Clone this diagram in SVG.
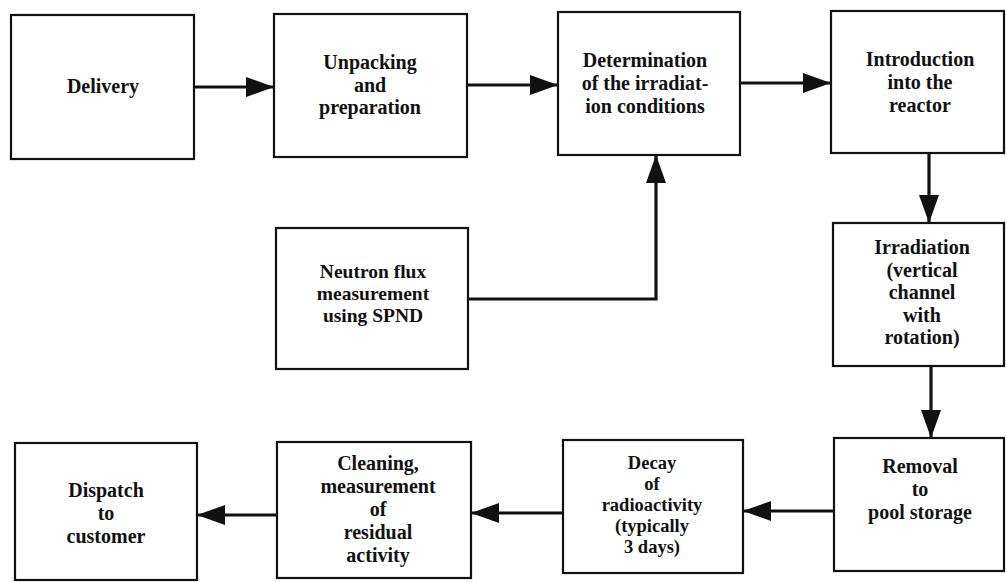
<svg xmlns="http://www.w3.org/2000/svg" width="1006" height="582" viewBox="0 0 1006 582">
<style>
.box{fill:#fff;stroke:#111;stroke-width:2.2}
.t{font-family:"Liberation Serif",serif;font-weight:bold;font-size:20px;fill:#111;text-anchor:middle}
.s{font-size:19.5px}
.xs{font-size:18.5px}
.c{fill:none;stroke:#111;stroke-width:3.2}
</style>
<defs>
<marker id="ah" markerUnits="userSpaceOnUse" markerWidth="28" markerHeight="20" refX="27" refY="10" orient="auto">
<path d="M0,0 L28,10 L0,20 z" fill="#111"/>
</marker>
</defs>
<rect width="1006" height="582" fill="#fff"/>
<g id="connectors">
<path class="c" d="M194,87 H273" marker-end="url(#ah)"/>
<path class="c" d="M467,85 H557" marker-end="url(#ah)"/>
<path class="c" d="M740,83 H830" marker-end="url(#ah)"/>
<path class="c" d="M468,299 H656 V156" marker-end="url(#ah)"/>
<path class="c" d="M929,153 V222" marker-end="url(#ah)"/>
<path class="c" d="M931,366 V437" marker-end="url(#ah)"/>
<path class="c" d="M834,511 H744" marker-end="url(#ah)"/>
<path class="c" d="M563,513 H472" marker-end="url(#ah)"/>
<path class="c" d="M277,515 H198" marker-end="url(#ah)"/>
</g>
<g id="delivery">
<rect class="box" x="11" y="15" width="183" height="144"/>
<text class="t" x="103" y="93">Delivery</text>
</g>
<g id="unpacking">
<rect class="box" x="274" y="14" width="193" height="143"/>
<text class="t" x="370" y="69">Unpacking</text>
<text class="t" x="370" y="91.5">and</text>
<text class="t" x="370" y="114">preparation</text>
</g>
<g id="determination">
<rect class="box" x="558" y="12" width="182" height="143"/>
<text class="t" x="645" y="67">Determination</text>
<text class="t" x="645" y="90">of the irradiat-</text>
<text class="t" x="645" y="113">ion conditions</text>
</g>
<g id="introduction">
<rect class="box" x="831" y="11" width="173" height="142"/>
<text class="t" x="920" y="66">Introduction</text>
<text class="t" x="920" y="89">into the</text>
<text class="t" x="920" y="112">reactor</text>
</g>
<g id="neutron">
<rect class="box" x="276" y="228" width="192" height="141"/>
<text class="t s" x="373" y="278">Neutron flux</text>
<text class="t s" x="373" y="300">measurement</text>
<text class="t s" x="373" y="322">using SPND</text>
</g>
<g id="irradiation">
<rect class="box" x="833" y="223" width="171" height="143"/>
<text class="t" x="922" y="254">Irradiation</text>
<text class="t" x="922" y="276.5">(vertical</text>
<text class="t" x="922" y="299">channel</text>
<text class="t" x="922" y="321.5">with</text>
<text class="t" x="922" y="344">rotation)</text>
</g>
<g id="removal">
<rect class="box" x="834" y="438" width="170" height="133"/>
<text class="t" x="920" y="473">Removal</text>
<text class="t" x="920" y="496">to</text>
<text class="t" x="920" y="519">pool storage</text>
</g>
<g id="decay">
<rect class="box" x="563" y="440" width="180" height="133"/>
<text class="t xs" x="652" y="469">Decay</text>
<text class="t xs" x="652" y="490">of</text>
<text class="t xs" x="652" y="511">radioactivity</text>
<text class="t xs" x="652" y="532">(typically</text>
<text class="t xs" x="652" y="553">3 days)</text>
</g>
<g id="cleaning">
<rect class="box" x="277" y="442" width="194" height="136"/>
<text class="t" x="378" y="470">Cleaning,</text>
<text class="t" x="378" y="493">measurement</text>
<text class="t" x="378" y="516">of</text>
<text class="t" x="378" y="539">residual</text>
<text class="t" x="378" y="562">activity</text>
</g>
<g id="dispatch">
<rect class="box" x="15" y="443" width="182" height="137"/>
<text class="t" x="106" y="497">Dispatch</text>
<text class="t" x="106" y="520">to</text>
<text class="t" x="106" y="543">customer</text>
</g>
</svg>
